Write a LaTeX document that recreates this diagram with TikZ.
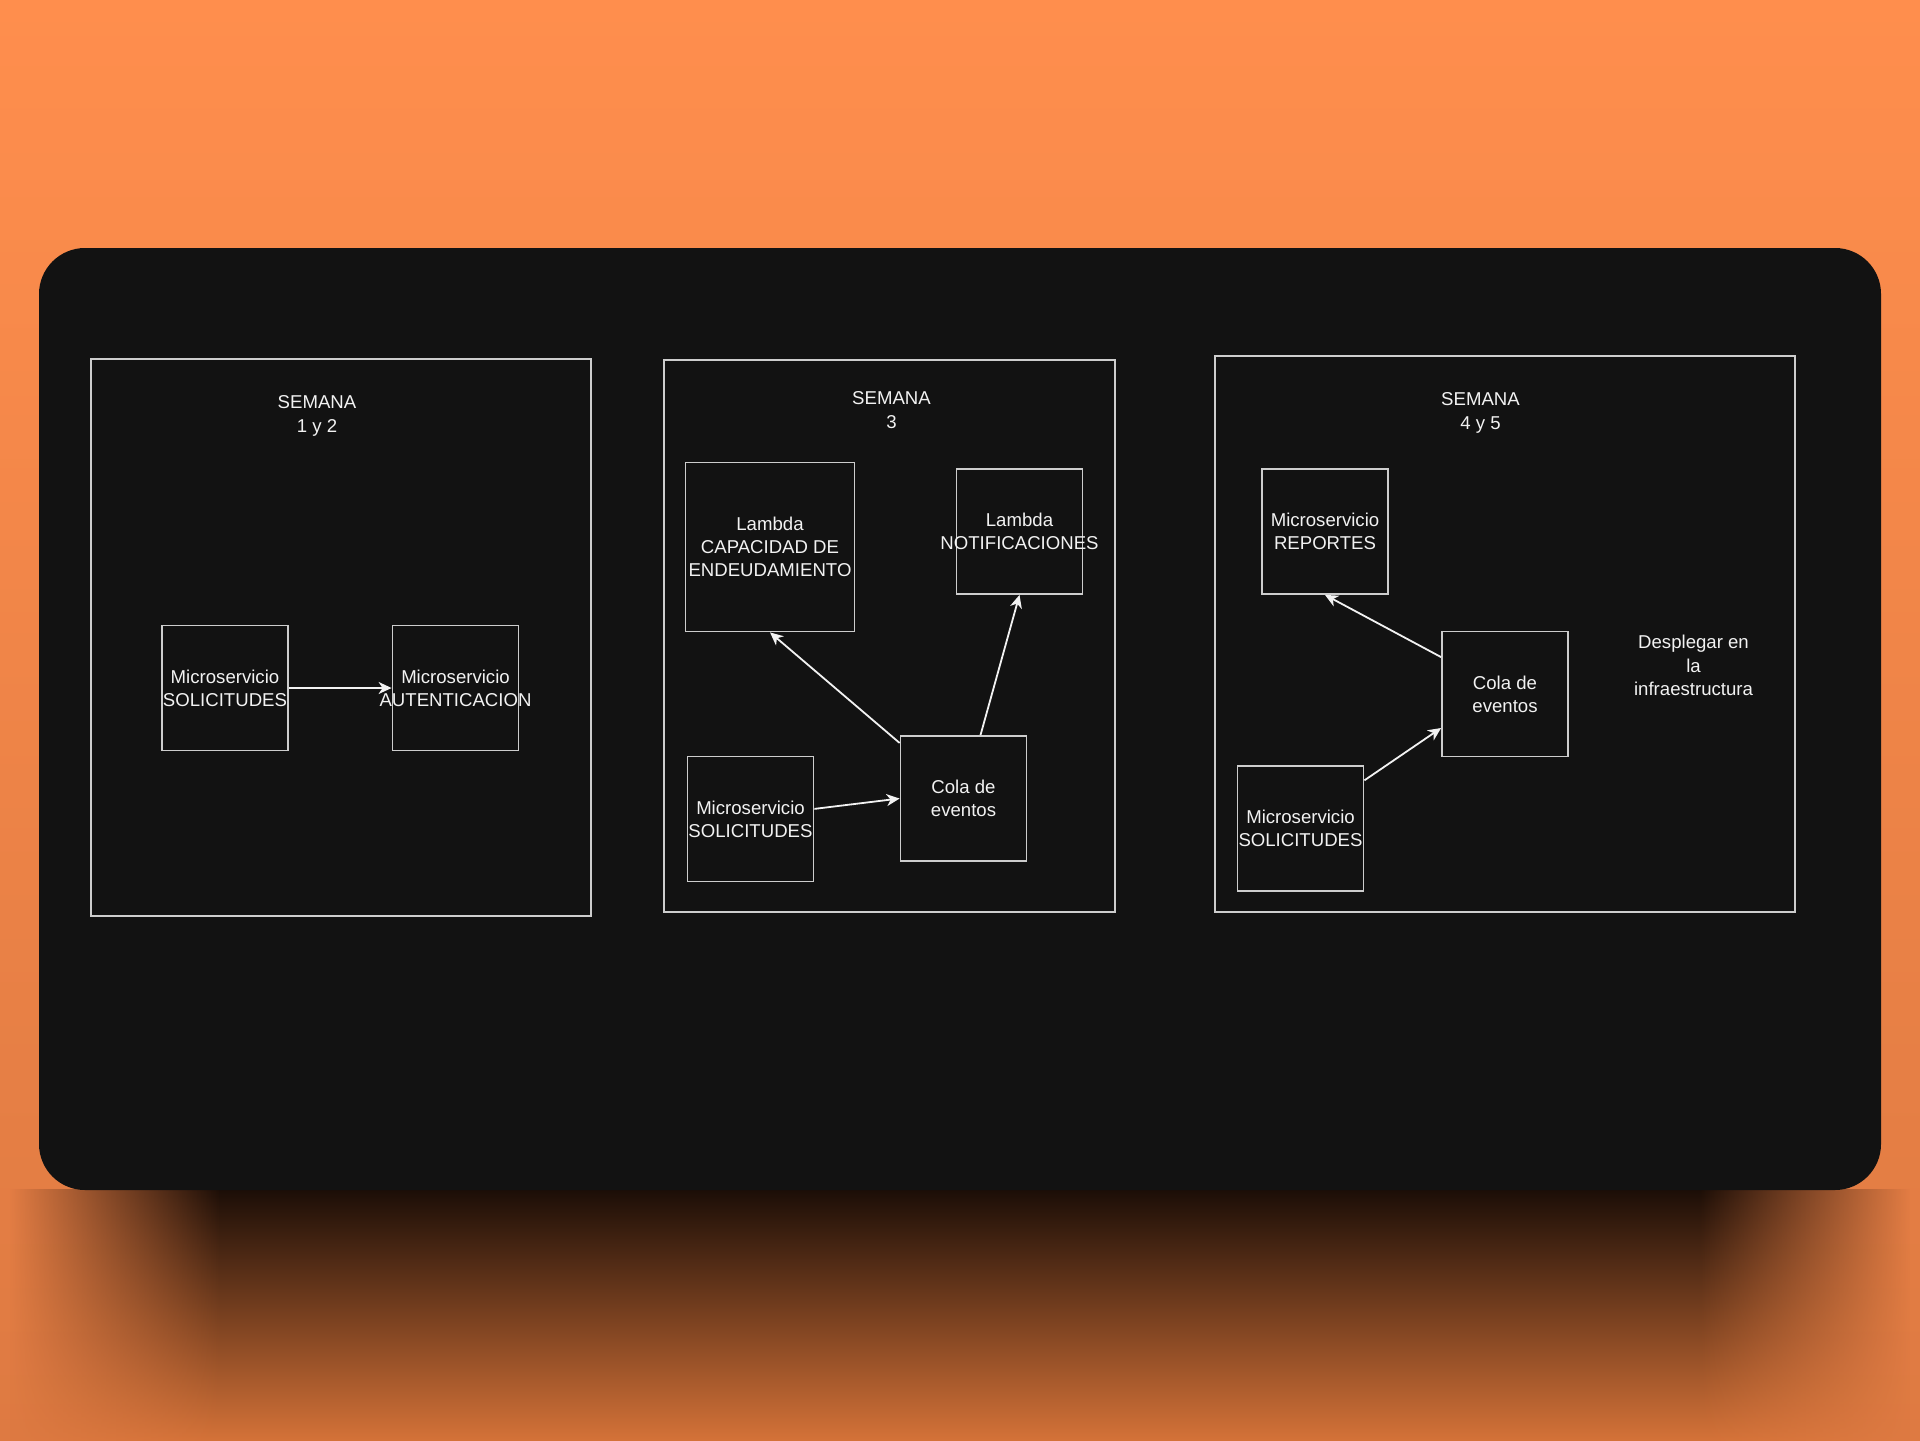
\documentclass[tikz,border=0pt]{standalone}
\usepackage{fontspec}
\setmainfont{Liberation Sans}
\usetikzlibrary{arrows.meta, fadings}
\definecolor{naranja}{HTML}{FF8E4D}
\definecolor{naranjaosc}{HTML}{DE7A42}
\definecolor{sombra}{HTML}{1C0E07}
\definecolor{sombrabaja}{HTML}{D47238}
\definecolor{fondo}{HTML}{121212}
\definecolor{linea}{HTML}{CDCDCD}
\definecolor{blanco}{HTML}{F2F2F2}
\tikzfading[name=fadeizq, left color=transparent!100, right color=transparent!0]
\tikzfading[name=fadeder, left color=transparent!0, right color=transparent!100]

\begin{document}
\begin{tikzpicture}[x=0.5pt, y=-0.5pt,
  >={Stealth[length=6.5pt, width=6pt, inset=2pt]},
  caja/.style={draw=linea, line width=0.9pt, minimum width=63pt, minimum height=62.5pt, inner sep=0pt},
  rotulo/.style={text=blanco, align=center, font=\fontsize{9.3pt}{11.6pt}\selectfont, inner sep=0pt},
  flecha/.style={->, draw=blanco, line width=0.9pt},
  sombreado/.style={top color=sombra, bottom color=sombrabaja}]

\useasboundingbox (0,0) rectangle (1920,1440);

% Fondo naranja y sombra bajo la tarjeta
\shade[top color=naranja, bottom color=naranjaosc] (0,0) rectangle (1920,1440);
\shade[sombreado, path fading=fadeizq] (10,1190) rectangle (220,1440);
\shade[sombreado] (219,1190) rectangle (1701,1440);
\shade[sombreado, path fading=fadeder] (1700,1190) rectangle (1910,1440);

% Tarjeta oscura
\fill[fondo, rounded corners=23pt] (39,248) rectangle (1881,1190);

% Marcos de las semanas
\draw[linea, line width=0.9pt] (91,359) rectangle (591,916);
\draw[linea, line width=0.9pt] (664,360) rectangle (1115,912);
\draw[linea, line width=0.9pt] (1215,356) rectangle (1795,912);

% Semana 1 y 2
\node[rotulo] (titulo1) at (317,416) {SEMANA\\1 y 2};
\node[caja, label={[rotulo]center:Microservicio\\SOLICITUDES}] (sol1) at (225,688) {};
\node[caja, label={[rotulo]center:Microservicio\\AUTENTICACION}] (aut1) at (455.5,688) {};
\draw[flecha] (sol1.east) -- (aut1.west);

% Semana 3
\node[rotulo] (titulo2) at (891.5,410) {SEMANA\\3};
\node[caja, minimum width=84.5pt, minimum height=84.5pt,
  label={[rotulo]center:Lambda\\CAPACIDAD DE\\ENDEUDAMIENTO}] (cap) at (770,547) {};
\node[caja, label={[rotulo]center:Lambda\\NOTIFICACIONES}] (notif) at (1019.5,531.5) {};
\node[caja, label={[rotulo]center:Microservicio\\SOLICITUDES}] (sol2) at (750.5,819) {};
\node[caja, label={[rotulo]center:Cola de\\eventos}] (cola2) at (963.5,798.5) {};
\draw[flecha] (sol2.9) -- (cola2.west);
\draw[flecha] (cola2.139) -- (cap.south);
\draw[flecha] (cola2.75) -- (notif.south);

% Semana 4 y 5
\node[rotulo] (titulo3) at (1480.5,413) {SEMANA\\4 y 5};
\node[caja, label={[rotulo]center:Microservicio\\REPORTES}] (rep) at (1325,531.5) {};
\node[caja, label={[rotulo]center:Cola de\\eventos}] (cola3) at (1505,694) {};
\node[caja, label={[rotulo]center:Microservicio\\SOLICITUDES}] (sol3) at (1300.5,828.5) {};
\node[rotulo] (despliegue) at (1693.5,665.5) {Desplegar en\\la\\infraestructura};
\draw[flecha] (cola3.150) -- (rep.south);
\draw[flecha] (sol3.37) -- (cola3.208);

\end{tikzpicture}
\end{document}
